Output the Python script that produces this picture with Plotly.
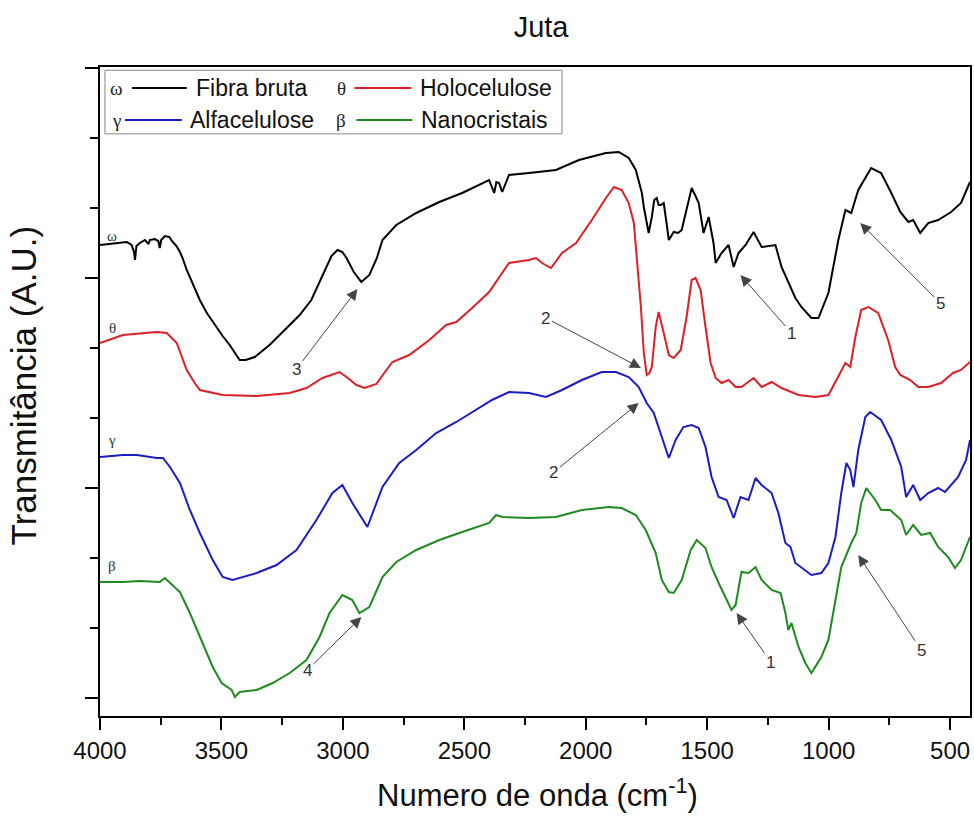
import plotly.graph_objects as go

# ---------------- data (wavenumber cm-1, transmittance A.U.) ----------------
wn_fibra = [4000, 3960, 3918, 3890, 3870, 3860, 3856, 3850, 3836, 3815, 3800, 3795, 3775, 3760, 3754, 3748,
            3733, 3715, 3704, 3685, 3671, 3660, 3643, 3620, 3589, 3560, 3528, 3495, 3466, 3440, 3425, 3400,
            3363, 3302, 3240, 3178, 3130, 3096, 3047, 3022, 3002, 2985, 2955, 2924, 2891, 2860, 2837, 2780,
            2698, 2603, 2509, 2398, 2377, 2368, 2357, 2344, 2316, 2234, 2123, 2028, 1917, 1864, 1823, 1794,
            1769, 1761, 1749, 1741, 1728, 1718, 1708, 1700, 1691, 1679, 1668, 1658, 1638, 1620, 1605, 1576,
            1564, 1550, 1535, 1515, 1494, 1474, 1465, 1441, 1412, 1391, 1371, 1342, 1309, 1276, 1219, 1194,
            1166, 1137, 1112, 1071, 1042, 1001, 960, 931, 907, 878, 825, 784, 742, 705, 672, 652, 623, 590,
            549, 496, 455, 418]
t_fibra = [47.1, 47.2, 47.3, 47.4, 47.1, 46.4, 45.6, 47.0, 47.3, 47.6, 47.2, 47.6, 47.7, 47.5, 46.8, 47.6,
           48.0, 47.9, 47.5, 47.0, 46.4, 45.8, 44.6, 43.3, 41.6, 40.3, 39.1, 38.0, 37.1, 36.1, 35.6, 35.6,
           35.9, 37.1, 38.6, 40.1, 41.6, 43.4, 46.0, 46.6, 46.4, 45.8, 44.4, 43.4, 44.1, 45.8, 47.6, 49.1,
           50.3, 51.4, 52.3, 53.6, 52.3, 53.4, 53.3, 52.4, 54.1, 54.3, 54.6, 55.6, 56.3, 56.4, 55.8, 54.6,
           52.3, 50.9, 49.1, 48.3, 49.9, 51.6, 51.8, 51.1, 51.1, 51.3, 49.4, 47.6, 48.4, 48.3, 48.6, 51.6,
           52.8, 52.1, 51.3, 48.3, 49.9, 47.3, 45.3, 46.3, 47.1, 44.9, 46.3, 47.1, 48.4, 46.9, 47.1, 44.9,
           43.3, 41.8, 40.9, 39.8, 39.8, 42.3, 47.6, 50.6, 50.3, 52.6, 54.8, 54.3, 52.3, 50.4, 49.4, 49.6,
           48.3, 49.3, 49.6, 50.4, 51.3, 53.4]

wn_holo = [4000, 3906, 3766, 3725, 3684, 3665, 3643, 3610, 3589, 3495, 3355, 3219, 3150, 3084, 3014, 2985,
           2944, 2911, 2862, 2830, 2796, 2727, 2644, 2575, 2533, 2468, 2398, 2316, 2234, 2205, 2180, 2143,
           2098, 2040, 1975, 1917, 1884, 1852, 1823, 1802, 1790, 1773, 1761, 1749, 1738, 1728, 1712, 1700,
           1679, 1658, 1638, 1609, 1585, 1564, 1548, 1527, 1507, 1486, 1465, 1441, 1412, 1383, 1359, 1309,
           1276, 1235, 1194, 1124, 1055, 1001, 968, 931, 911, 890, 866, 837, 796, 755, 726, 705, 664, 631,
           590, 537, 488, 455, 418]
t_holo = [37.3, 38.1, 38.4, 38.3, 37.3, 36.1, 34.6, 33.3, 32.6, 32.1, 32.0, 32.3, 32.8, 33.8, 34.4, 33.9,
          33.1, 32.8, 33.2, 34.3, 35.4, 36.1, 37.6, 39.1, 39.4, 40.8, 42.4, 45.3, 45.6, 45.8, 45.3, 44.8,
          46.3, 47.3, 49.6, 51.8, 52.9, 52.6, 51.3, 49.3, 45.9, 40.9, 36.3, 34.1, 34.3, 34.9, 38.9, 40.4,
          38.3, 36.1, 35.8, 36.6, 39.9, 43.6, 43.8, 42.6, 38.9, 35.3, 33.8, 33.3, 33.6, 32.9, 32.9, 33.8,
          32.9, 33.4, 32.8, 32.1, 31.9, 32.1, 33.6, 35.3, 34.9, 37.9, 40.6, 40.9, 40.3, 37.6, 34.9, 34.1,
          33.6, 32.9, 32.9, 33.3, 34.3, 34.6, 35.4]

wn_alfa = [4000, 3906, 3848, 3766, 3741, 3712, 3671, 3630, 3589, 3536, 3495, 3454, 3355, 3273, 3191, 3109,
           3043, 3002, 2961, 2899, 2837, 2768, 2698, 2616, 2533, 2451, 2386, 2316, 2234, 2164, 2098, 2016,
           1934, 1876, 1823, 1782, 1749, 1720, 1687, 1658, 1630, 1598, 1564, 1535, 1507, 1482, 1453, 1420,
           1391, 1363, 1330, 1301, 1276, 1235, 1207, 1178, 1157, 1137, 1071, 1030, 1001, 972, 948, 927, 911,
           898, 878, 849, 829, 784, 742, 701, 681, 652, 623, 590, 549, 521, 467, 434, 418]
t_alfa = [25.9, 26.1, 26.1, 25.8, 25.8, 24.9, 23.3, 20.6, 18.3, 15.6, 13.9, 13.6, 14.3, 15.1, 16.6, 19.6,
          22.3, 23.1, 21.3, 18.9, 22.9, 25.3, 26.6, 28.3, 29.4, 30.6, 31.6, 32.4, 32.3, 31.9, 32.6, 33.6,
          34.4, 34.4, 33.9, 32.9, 31.3, 30.3, 27.9, 25.8, 27.6, 28.9, 29.1, 28.8, 26.9, 23.9, 21.9, 21.6,
          19.8, 21.9, 21.6, 23.8, 23.1, 22.3, 20.3, 17.3, 16.9, 15.3, 14.1, 14.3, 15.3, 17.9, 22.3, 25.3, 24.6,
          22.9, 26.6, 29.9, 30.4, 29.6, 27.6, 24.9, 21.9, 23.1, 21.6, 22.3, 22.8, 22.4, 23.9, 25.6, 27.6]

wn_nano = [4000, 3906, 3836, 3754, 3733, 3704, 3671, 3630, 3589, 3536, 3499, 3478, 3458, 3445, 3425, 3355,
           3289, 3219, 3150, 3096, 3055, 3002, 2961, 2932, 2891, 2837, 2780, 2698, 2603, 2509, 2398, 2369,
           2344, 2234, 2123, 2016, 1905, 1852, 1794, 1753, 1712, 1687, 1658, 1638, 1605, 1568, 1543, 1507,
           1482, 1453, 1420, 1400, 1383, 1359, 1330, 1301, 1276, 1235, 1198, 1178, 1166, 1153, 1124, 1096,
           1071, 1030, 1001, 972, 948, 907, 886, 866, 845, 808, 784, 747, 701, 681, 652, 619, 582, 549, 508,
           480, 455, 426, 418]
t_nano = [13.4, 13.4, 13.5, 13.4, 13.8, 13.1, 12.4, 10.3, 7.9, 4.9, 3.3, 2.9, 2.6, 1.9, 2.4, 2.6,
          3.3, 4.3, 5.6, 7.9, 10.3, 12.1, 11.6, 10.3, 10.9, 13.9, 15.4, 16.6, 17.6, 18.4, 19.3, 20.1,
          19.9, 19.8, 19.9, 20.6, 20.9, 20.8, 20.1, 18.6, 16.3, 13.6, 12.4, 12.3, 13.6, 16.6, 17.6, 16.8,
          14.9, 13.3, 11.6, 10.6, 11.1, 14.4, 14.3, 14.9, 13.6, 12.6, 12.3, 10.3, 8.6, 9.3, 6.9, 5.3,
          4.3, 5.9, 7.6, 11.6, 14.9, 17.3, 18.3, 21.3, 22.8, 21.6, 20.6, 20.6, 19.6, 18.1, 19.1, 18.1, 18.3,
          16.9, 15.9, 14.8, 15.6, 17.4, 17.9]

series_names = ["Fibra bruta", "Holocelulose", "Alfacelulose", "Nanocristais"]
series_symbols = ["ω", "θ", "γ", "β"]
series_colors = ["#000000", "#dd1f26", "#1c1cc4", "#1f8a1f"]

# curve-start greek labels (wavenumber, A.U.)
label_wn = [3950, 3950, 3952, 3950]
label_t = [48.0, 38.8, 27.6, 15.0]

# band-marker arrows: number, head (wn, A.U.), text position (wn, A.U.)
arrow_text = ["3", "2", "2", "4", "1", "5", "1", "5"]
arrow_head_wn = [2940, 1773, 1782, 2924, 1363, 870, 1379, 878]
arrow_head_t = [42.7, 34.8, 31.3, 9.9, 44.1, 49.3, 10.3, 16.1]
arrow_tail_wn = [3191, 2164, 2131, 3146, 1153, 541, 1239, 619]
arrow_tail_t = [34.7, 39.8, 24.4, 4.6, 38.3, 41.3, 5.4, 6.6]

x_ticks = [4000, 3500, 3000, 2500, 2000, 1500, 1000, 500]

# ---------------- figure ----------------
fig = go.Figure()
for wn, t, c, n in zip([wn_fibra, wn_holo, wn_alfa, wn_nano],
                       [t_fibra, t_holo, t_alfa, t_nano], series_colors, series_names):
    fig.add_trace(go.Scatter(x=wn, y=t, mode="lines", name=n, showlegend=False,
                             line=dict(color=c, width=2)))

annotations = []
for s, x, y in zip(series_symbols, label_wn, label_t):
    annotations.append(dict(x=x, y=y, xref="x", yref="y", text=s, showarrow=False,
                            font=dict(family="Liberation Serif", size=15, color="#333333"),
                            xanchor="center", yanchor="middle"))
for txt, hx, hy, tx, ty in zip(arrow_text, arrow_head_wn, arrow_head_t, arrow_tail_wn, arrow_tail_t):
    annotations.append(dict(x=hx, y=hy, xref="x", yref="y", ax=tx, ay=ty, axref="x", ayref="y",
                            text=txt, showarrow=True, arrowhead=2, arrowsize=2.2, arrowwidth=1,
                            arrowcolor="#444444", standoff=0, startstandoff=0,
                            font=dict(family="Liberation Sans", size=17, color="#333333")))

# custom legend (paper coordinates)
shapes = [dict(type="rect", xref="paper", yref="paper", x0=0.0057, x1=0.531, y0=0.897, y1=0.995,
               line=dict(color="#888888", width=1), fillcolor="white", layer="above")]
leg_rows = [0.9676, 0.9676, 0.9183, 0.9183]
leg_sym_x = [0.0195, 0.2775, 0.0195, 0.2775]
leg_line_x0 = [0.0367, 0.2924, 0.0287, 0.2947]
leg_line_x1 = [0.0998, 0.3578, 0.0940, 0.3590]
leg_text_x = [0.108, 0.365, 0.101, 0.367]
for i in range(4):
    shapes.append(dict(type="line", xref="paper", yref="paper", x0=leg_line_x0[i], x1=leg_line_x1[i],
                       y0=leg_rows[i], y1=leg_rows[i], line=dict(color=series_colors[i], width=2),
                       layer="above"))
    annotations.append(dict(x=leg_sym_x[i], y=leg_rows[i], xref="paper", yref="paper",
                            text=series_symbols[i], showarrow=False, xanchor="center", yanchor="middle",
                            font=dict(family="Liberation Serif", size=19, color="#222222")))
    annotations.append(dict(x=leg_text_x[i], y=leg_rows[i], xref="paper", yref="paper",
                            text=series_names[i], showarrow=False, xanchor="left", yanchor="middle",
                            font=dict(family="Liberation Sans", size=23, color="#111111")))

# axis titles
annotations.append(dict(x=0.503, y=-0.118, xref="paper", yref="paper", showarrow=False,
                        text="Numero de onda (cm<sup>-1</sup>)", xanchor="center", yanchor="middle",
                        font=dict(family="Liberation Sans", size=31, color="#111111")))
annotations.append(dict(x=-0.088, y=0.51, xref="paper", yref="paper", showarrow=False,
                        text="Transmitância (A.U.)", textangle=-90, xanchor="center", yanchor="middle",
                        font=dict(family="Liberation Sans", size=35, color="#111111")))

fig.update_layout(
    width=974, height=818,
    margin=dict(l=100, r=2, t=67, b=102),
    paper_bgcolor="white", plot_bgcolor="white",
    title=dict(text="Juta", x=0.507, xref="paper", y=0.967, yref="container",
               xanchor="center", yanchor="middle",
               font=dict(family="Liberation Sans", size=29, color="#111111")),
    shapes=shapes, annotations=annotations,
    xaxis=dict(range=[4000, 418], tickvals=x_ticks, ticks="outside", ticklen=12, tickwidth=1.5,
               tickcolor="black", showline=True, linecolor="black", linewidth=2, mirror=True,
               showgrid=False, zeroline=False,
               tickfont=dict(family="Liberation Sans", size=24, color="#111111"),
               minor=dict(tickmode="linear", tick0=250, dtick=500, ticks="outside", ticklen=7,
                          tickwidth=1.5, tickcolor="black", showgrid=False)),
    yaxis=dict(range=[0, 64.9], tickmode="linear", tick0=1.8, dtick=21, ticks="outside", ticklen=13,
               tickwidth=1.5, tickcolor="black", showticklabels=False, showline=True,
               linecolor="black", linewidth=2, mirror=True, showgrid=False, zeroline=False,
               minor=dict(tickmode="linear", tick0=1.8, dtick=7, ticks="outside", ticklen=8,
                          tickwidth=1.5, tickcolor="black", showgrid=False)),
)

fig.write_html("out.html")
